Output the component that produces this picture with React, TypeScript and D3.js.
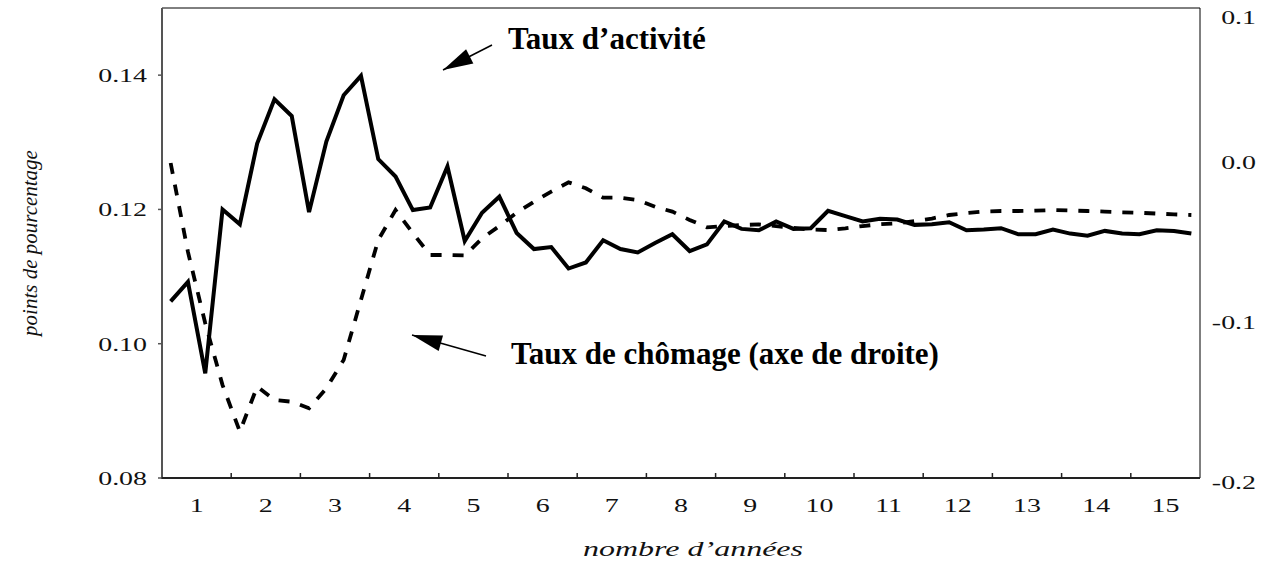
import React from "react";
import * as d3 from "d3";

const years = ["1","2","3","4","5","6","7","8","9","10","11","12","13","14","15"];
const leftTicks = [0.08, 0.10, 0.12, 0.14];
const rightTicks = [-0.2, -0.1, 0.0, 0.1];

// Taux d'activité (left axis), quarterly, 60 quarters
const activite = [
  0.1063, 0.1092, 0.0956, 0.1200, 0.1178, 0.1298, 0.1364, 0.1339, 0.1196, 0.1301,
  0.1370, 0.1399, 0.1275, 0.1249, 0.1199, 0.1203, 0.1264, 0.1153, 0.1195, 0.1219,
  0.1165, 0.1141, 0.1144, 0.1112, 0.1121, 0.1154, 0.1141, 0.1136, 0.1150, 0.1163,
  0.1138, 0.1148, 0.1182, 0.1171, 0.1169, 0.1182, 0.1171, 0.1172, 0.1198, 0.1190,
  0.1182, 0.1186, 0.1185, 0.1177, 0.1178, 0.1181, 0.1169, 0.1170, 0.1172, 0.1163,
  0.1163, 0.1170, 0.1164, 0.1161, 0.1168, 0.1164, 0.1163, 0.1169, 0.1168, 0.1164,
];

// Taux de chômage (right axis)
const chomage = [
  0.0000, -0.0556, -0.1002, -0.1388, -0.1679, -0.1398, -0.1481, -0.1492, -0.1533, -0.1408,
  -0.1231, -0.0856, -0.0481, -0.0294, -0.0438, -0.0575, -0.0575, -0.0578, -0.0471, -0.0394,
  -0.0311, -0.0242, -0.0179, -0.0121, -0.0158, -0.0217, -0.0217, -0.0231, -0.0273, -0.0304,
  -0.0356, -0.0402, -0.0394, -0.0388, -0.0384, -0.0394, -0.0406, -0.0416, -0.0419, -0.0408,
  -0.0394, -0.0383, -0.0377, -0.0363, -0.0347, -0.0325, -0.0313, -0.0303, -0.0300, -0.0300,
  -0.0298, -0.0294, -0.0297, -0.0300, -0.0304, -0.0308, -0.0311, -0.0316, -0.0321, -0.0325,
];

const W = 1271, H = 562;
const L = 162, R = 1200, T = 8, B = 478;
const FONT = "'Liberation Serif', 'Times New Roman', serif";
const SX = 1.55;

function arrowHead(tip: [number, number], tail: [number, number], len = 30, half = 8) {
  const dx = tail[0] - tip[0], dy = tail[1] - tip[1];
  const d = Math.hypot(dx, dy);
  const ux = dx / d, uy = dy / d;
  const bx = tip[0] + ux * len, by = tip[1] + uy * len;
  const px = -uy, py = ux;
  return `M${tip[0]},${tip[1]}L${bx + px * half},${by + py * half}L${bx - px * half},${by - py * half}Z`;
}

export default function App() {
  const n = activite.length;
  const xq = d3.scaleBand<number>().domain(d3.range(n)).range([L, R]);
  const xy = d3.scaleBand<string>().domain(years).range([L, R]);
  const yL = d3.scaleLinear().domain([0.08, 0.15]).range([B, T]);
  const yR = d3.scaleLinear().domain([-0.2, 0.1]).range([483, 3]);
  const cx = (i: number) => (xq(i) as number) + xq.bandwidth() / 2;

  const lineA = d3.line<number>().x((_, i) => cx(i)).y((d) => yL(d));
  const lineC = d3.line<number>().x((_, i) => cx(i)).y((d) => yR(d));

  const a1tip: [number, number] = [443, 70], a1tail: [number, number] = [492, 45];
  const a2tip: [number, number] = [412, 335], a2tail: [number, number] = [486, 356];

  return (
    <svg width={W} height={H} style={{ position: "absolute", left: 0, top: 0, background: "#fff" }} fontFamily={FONT}>
      <rect x={0} y={0} width={W} height={H} fill="#fff" />
      {/* frame */}
      <line x1={L} y1={T} x2={R} y2={T} stroke="#000" strokeWidth={1} />
      <line x1={R} y1={T} x2={R} y2={B} stroke="#000" strokeWidth={1} />
      <line x1={L} y1={T} x2={L} y2={B + 1} stroke="#555" strokeWidth={2} />
      <line x1={L - 1} y1={B} x2={R} y2={B} stroke="#222" strokeWidth={2} />

      {/* left ticks & labels */}
      {leftTicks.map((t) => (
        <g key={"l" + t}>
          <line x1={L - 4} x2={L} y1={yL(t)} y2={yL(t)} stroke="#555" strokeWidth={1.5} />
          <text transform={`translate(147,${yL(t) + 7}) scale(${SX},1)`} textAnchor="end" fontSize={18} fill="#111">
            {t.toFixed(2)}
          </text>
        </g>
      ))}

      {/* right labels */}
      {rightTicks.map((t) => (
        <text key={"r" + t} transform={`translate(1256,${Math.max(yR(t), 18) + 6}) scale(${SX},1)`} textAnchor="end" fontSize={18} fill="#111">
          {t.toFixed(1)}
        </text>
      ))}

      {/* bottom ticks & labels */}
      {years.map((y, i) => {
        const x0 = xy(y) as number;
        return (
          <g key={"x" + y}>
            {i > 0 && <line x1={x0} x2={x0} y1={B - 5} y2={B} stroke="#222" strokeWidth={1.5} />}
            <text transform={`translate(${x0 + xy.bandwidth() / 2},512) scale(${SX},1)`} textAnchor="middle" fontSize={18} fill="#111">
              {y}
            </text>
          </g>
        );
      })}

      {/* series */}
      <path d={lineC(chomage) || ""} fill="none" stroke="#000" strokeWidth={3.8} strokeDasharray="11,11" />
      <path d={lineA(activite) || ""} fill="none" stroke="#000" strokeWidth={4} strokeLinejoin="miter" />

      {/* annotations */}
      <line x1={a1tail[0]} y1={a1tail[1]} x2={a1tip[0]} y2={a1tip[1]} stroke="#000" strokeWidth={1.5} />
      <path d={arrowHead(a1tip, a1tail)} fill="#000" />
      <text x={508} y={49} fontSize={31} fontWeight="bold" fill="#000">Taux d’activité</text>

      <line x1={a2tail[0]} y1={a2tail[1]} x2={a2tip[0]} y2={a2tip[1]} stroke="#000" strokeWidth={1.5} />
      <path d={arrowHead(a2tip, a2tail)} fill="#000" />
      <text x={511} y={364} fontSize={31} fontWeight="bold" fill="#000">Taux de chômage (axe de droite)</text>

      {/* axis titles */}
      <text transform={`translate(693,556) scale(1.6,1)`} textAnchor="middle" fontSize={20} fontStyle="italic" fill="#111">
        nombre d’années
      </text>
      <text transform={`translate(37,${(T + B) / 2}) rotate(-90)`} textAnchor="middle" fontSize={21} fontStyle="italic" fill="#111">
        points de pourcentage
      </text>
    </svg>
  );
}
